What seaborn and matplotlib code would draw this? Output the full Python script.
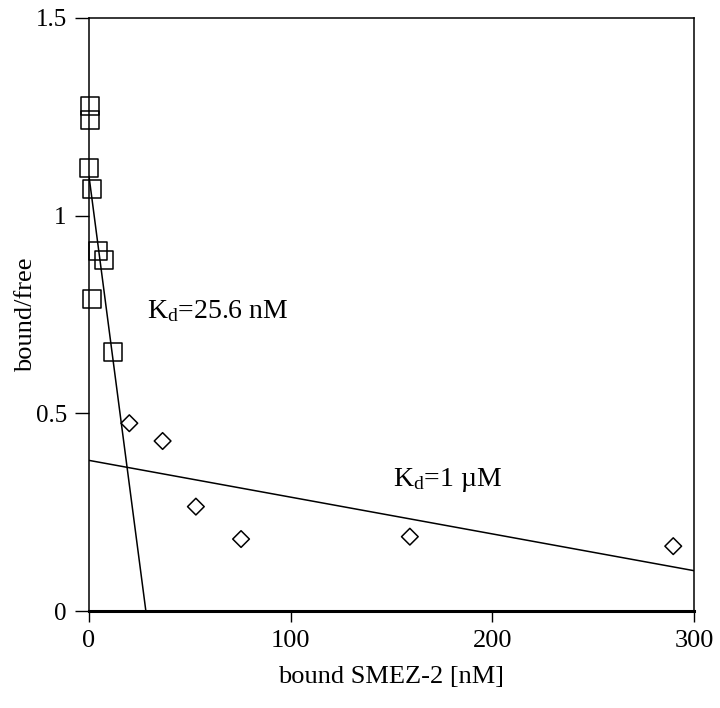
import matplotlib
matplotlib.use("Agg")
from matplotlib import pyplot as plt
import pandas as pd
import seaborn as sns

# high affinity points (squares)
sq_x = [0.3, 0.5, 0.1, 1.6, 4.5, 7.3, 1.6, 11.8]
sq_y = [1.278, 1.241, 1.120, 1.067, 0.911, 0.888, 0.790, 0.654]

# low affinity points (diamonds)
di_x = [20.0, 36.5, 53.0, 75.4, 159.1, 289.7]
di_y = [0.475, 0.430, 0.264, 0.182, 0.188, 0.164]

# fitted Scatchard lines
fit1_x = [0, 28.2]
fit1_y = [1.10, 0.0]
fit2_x = [0, 300]
fit2_y = [0.381, 0.102]

xticks = [0, 100, 200, 300]
yticks = [0, 0.5, 1, 1.5]
yticklabels = ["0", "0.5", "1", "1.5"]

sns.set_theme(style="ticks")
plt.rcParams['font.family'] = ['Liberation Serif', 'DejaVu Serif']
plt.rcParams['mathtext.fontset'] = 'custom'
plt.rcParams['mathtext.rm'] = 'Liberation Serif'
plt.rcParams['mathtext.it'] = 'Liberation Serif:italic'
plt.rcParams['text.color'] = 'black'
plt.rcParams['axes.labelcolor'] = 'black'

df_sq = pd.DataFrame({"x": sq_x, "y": sq_y})
df_di = pd.DataFrame({"x": di_x, "y": di_y})
df_f1 = pd.DataFrame({"x": fit1_x, "y": fit1_y})
df_f2 = pd.DataFrame({"x": fit2_x, "y": fit2_y})

fig = plt.figure(figsize=(7.2, 7.08), dpi=100)
ax = fig.add_axes([0.1236, 0.137, 0.8403, 0.8376])

sns.lineplot(ax=ax, data=df_f1, x="x", y="y", color="black", linewidth=1.1)
sns.lineplot(ax=ax, data=df_f2, x="x", y="y", color="black", linewidth=1.1)
sns.scatterplot(ax=ax, data=df_sq, x="x", y="y", marker="s", s=169,
                color="black", facecolor="none", edgecolor="black",
                linewidth=1.1, clip_on=False, zorder=3)
sns.scatterplot(ax=ax, data=df_di, x="x", y="y", marker="D", s=72,
                color="black", facecolor="none", edgecolor="black",
                linewidth=1.1, clip_on=False, zorder=3)

ax.set_xlim(0, 300)
ax.set_ylim(0, 1.5)
ax.set_xticks(xticks)
ax.set_xticklabels([str(t) for t in xticks], fontsize=19)
ax.set_yticks(yticks)
ax.set_yticklabels(yticklabels, fontsize=18)
ax.tick_params(axis='y', direction='out', length=10, width=1.0, pad=6,
               colors='black')
ax.tick_params(axis='x', direction='out', length=8, width=1.0, pad=6,
               colors='black')

for side in ['left', 'right', 'top']:
    ax.spines[side].set_linewidth(1.1)
    ax.spines[side].set_color('black')
ax.spines['bottom'].set_linewidth(2.2)
ax.spines['bottom'].set_color('black')

ax.set_xlabel("bound SMEZ-2 [nM]", fontsize=19, labelpad=10)
ax.set_ylabel("bound/free", fontsize=19, labelpad=-1)

ax.text(28.6, 0.741, r"K$_\mathrm{d}$=25.6 nM", fontsize=20, ha='left', va='baseline')
ax.text(150.6, 0.316, r"K$_\mathrm{d}$=1 µM", fontsize=20, ha='left', va='baseline')

ax.grid(False)
fig.savefig("out.png", dpi=100)
